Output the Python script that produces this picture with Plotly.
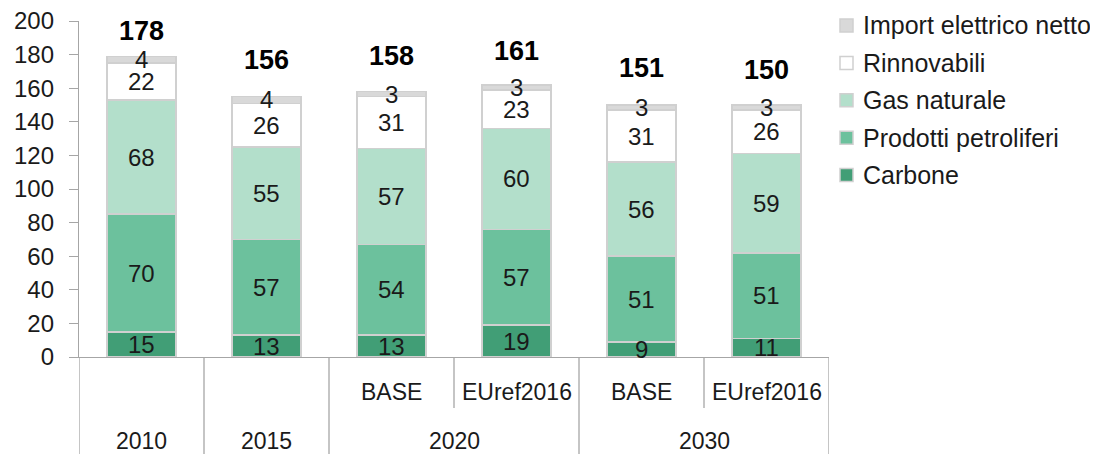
import plotly.graph_objects as go

years = ["2010", "2015", "2020", "2020", "2030", "2030"]
scenarios = ["", "", "BASE", "EUref2016", "BASE", "EUref2016"]
year_groups = [("2010", 0, 0), ("2015", 1, 1), ("2020", 2, 3), ("2030", 4, 5)]

carbone = [15, 13, 13, 19, 9, 11]
petroliferi = [70, 57, 54, 57, 51, 51]
gas = [68, 55, 57, 60, 56, 59]
rinnovabili = [22, 26, 31, 23, 31, 26]
import_el = [4, 4, 3, 3, 3, 3]
totals = [178, 156, 158, 161, 151, 150]

series = [
    ("Carbone", carbone, "#419e76"),
    ("Prodotti petroliferi", petroliferi, "#6cc19d"),
    ("Gas naturale", gas, "#b3dfcb"),
    ("Rinnovabili", rinnovabili, "#ffffff"),
    ("Import elettrico netto", import_el, "#d9d9d9"),
]

FONT = "Liberation Sans"
TXT = "#1a1a1a"
LINE = "#a6a6a6"
EDGE = "#d0d0d0"
xs = list(range(len(years)))

# plot area geometry (figure px)
L, T, PW, PH = 71, 13, 750, 336

fig = go.Figure()
for i, (name, vals, col) in enumerate(series):
    fig.add_trace(go.Bar(
        x=xs, y=vals, name=name, width=0.55,
        marker=dict(color=col, line=dict(color=EDGE, width=1.5)),
        hoverinfo="skip", showlegend=False,
    ))

annotations = []
base = [0] * len(xs)
for name, vals, col in series:
    for j, v in enumerate(vals):
        annotations.append(dict(
            x=xs[j], y=base[j] + v / 2, xref="x", yref="y", text=str(v),
            showarrow=False, font=dict(family=FONT, size=24, color=TXT),
        ))
        base[j] += v

for j, t in enumerate(totals):
    annotations.append(dict(
        x=xs[j], y=min(t + 21, 194), xref="x", yref="y", text="<b>%d</b>" % t,
        showarrow=False, font=dict(family=FONT, size=27, color="#000000"),
    ))

# category labels
for j, s in enumerate(scenarios):
    if s:
        annotations.append(dict(
            x=xs[j], y=-0.104, xref="x", yref="paper", text=s, showarrow=False,
            font=dict(family=FONT, size=23, color=TXT), yanchor="middle",
        ))
for label, a, b in year_groups:
    annotations.append(dict(
        x=(a + b) / 2, y=-0.25, xref="x", yref="paper", text=label, showarrow=False,
        font=dict(family=FONT, size=23, color=TXT), yanchor="middle",
    ))

shapes = []
for pos in [-0.5, 0.5, 1.5, 3.5, 5.5]:
    shapes.append(dict(type="line", xref="x", yref="paper", x0=pos, x1=pos,
                       y0=0, y1=-0.29, line=dict(color=LINE, width=1.3)))
for pos in [2.5, 4.5]:
    shapes.append(dict(type="line", xref="x", yref="paper", x0=pos, x1=pos,
                       y0=0, y1=-0.152, line=dict(color=LINE, width=1.3)))

# legend (top item first: reversed stack order)
leg_x0 = (832 - L) / PW
leg_x1 = (845 - L) / PW
leg_tx = (853 - L) / PW
for k, (name, vals, col) in enumerate(reversed(series)):
    cy = 17.5 + 37.4 * k - T  # item centre, px from plot top
    shapes.append(dict(type="rect", xref="paper", yref="paper",
                       x0=leg_x0, x1=leg_x1,
                       y0=1 - (cy + 6.5) / PH, y1=1 - (cy - 6.5) / PH,
                       fillcolor=col, line=dict(color=EDGE, width=1.5)))
    annotations.append(dict(x=leg_tx, y=1 - cy / PH, xref="paper", yref="paper",
                            text=name, showarrow=False, xanchor="left",
                            yanchor="middle",
                            font=dict(family=FONT, size=25, color=TXT)))

# page body has an 8px default margin: size the figure to fit the window
fig.update_layout(
    width=1090, height=446,
    margin=dict(l=L, r=1090 - L - PW, t=T, b=446 - T - PH, autoexpand=False),
    paper_bgcolor="white", plot_bgcolor="white",
    barmode="stack", bargap=0.45, showlegend=False,
    font=dict(family=FONT, size=22, color=TXT),
    annotations=annotations, shapes=shapes,
    xaxis=dict(range=[-0.5, 5.5], showticklabels=False, showgrid=False,
               zeroline=False, showline=True, linecolor=LINE, linewidth=1.3,
               ticks=""),
    yaxis=dict(range=[0, 200], tickvals=list(range(0, 201, 20)),
               showgrid=False, zeroline=False,
               showline=True, linecolor=LINE, linewidth=1.3, ticks="outside",
               ticklen=9, tickcolor=LINE, tickwidth=1.3, ticklabelstandoff=10,
               ticklabeloverflow="allow",
               tickfont=dict(family=FONT, size=24, color=TXT)),
)

fig.write_html("out.html")
